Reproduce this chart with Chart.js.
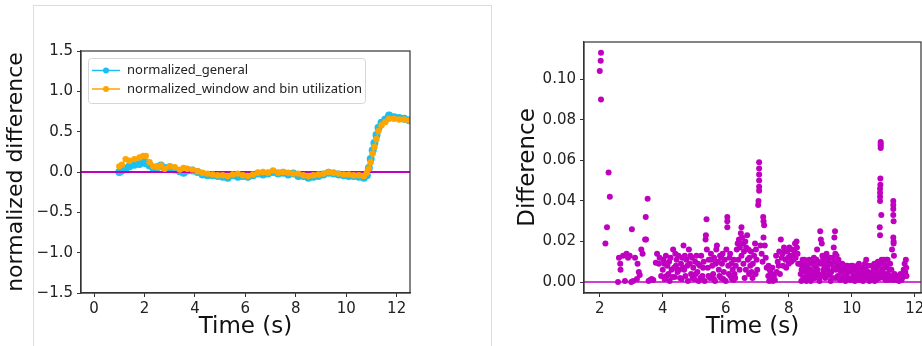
<!DOCTYPE html>
<html>
<head>
<meta charset="utf-8">
<script src="https://cdn.jsdelivr.net/npm/chart.js@4.4.1/dist/chart.umd.min.js"></script>
<style>
  html, body { margin: 0; padding: 0; background: #fff; overflow: hidden; }
  body { width: 922px; height: 346px; position: relative; }
  #frame { position: absolute; left: 33px; top: 5px; width: 459px; height: 360px; border: 1px solid #dcdcdc; box-sizing: border-box; }
  #leftChart { position: absolute; left: 0; top: 0; }
  #rightChart { position: absolute; left: 493px; top: 0; }
</style>
</head>
<body>
<div id="frame"></div>
<canvas id="leftChart" width="470" height="346"></canvas>
<canvas id="rightChart" width="445" height="346"></canvas>
<script>
// left panel: normalized difference over time
var times = [1.0, 1.1, 1.25, 1.4, 1.6, 1.8, 1.95, 2.05, 2.2, 2.35, 2.5, 2.65, 2.8, 3.0, 3.2, 3.4, 3.55, 3.7, 3.9,
  4.1, 4.3, 4.5, 4.7, 4.9, 5.1, 5.3, 5.5, 5.7, 5.9, 6.1, 6.3, 6.5, 6.7, 6.9, 7.1, 7.3, 7.5, 7.7, 7.9,
  8.1, 8.3, 8.5, 8.7, 8.9, 9.1, 9.3, 9.5, 9.7, 9.9, 10.1, 10.3, 10.5, 10.7, 10.82, 10.9, 10.97, 11.05,
  11.12, 11.2, 11.28, 11.4, 11.55, 11.7, 11.9, 12.1, 12.3, 12.5];
var generalDiff = [0.0, 0.02, 0.04, 0.07, 0.09, 0.10, 0.13, 0.11, 0.08, 0.05, 0.06, 0.08, 0.05, 0.06, 0.03, 0.01, -0.01, 0.02, 0.02,
  0.0, -0.03, -0.04, -0.04, -0.05, -0.06, -0.07, -0.04, -0.06, -0.05, -0.06, -0.04, -0.02, -0.03, -0.02, 0.0, -0.02, -0.01, -0.03, -0.02,
  -0.05, -0.05, -0.07, -0.06, -0.05, -0.03, -0.01, -0.02, -0.03, -0.04, -0.05, -0.05, -0.06, -0.07, -0.04, 0.05, 0.16, 0.27,
  0.36, 0.46, 0.55, 0.61, 0.65, 0.70, 0.68, 0.67, 0.66, 0.64];
var windowDiff = [0.07, 0.09, 0.16, 0.14, 0.16, 0.18, 0.20, 0.20, 0.12, 0.07, 0.06, 0.08, 0.04, 0.07, 0.06, 0.03, 0.05, 0.04, 0.03,
  0.01, -0.01, -0.02, -0.03, -0.04, -0.04, -0.05, -0.03, -0.02, -0.04, -0.05, -0.03, -0.01, 0.0, -0.01, 0.02, -0.01, 0.0, -0.01, -0.02,
  -0.02, -0.04, -0.05, -0.04, -0.03, -0.02, 0.0, -0.01, -0.02, -0.03, -0.03, -0.04, -0.04, -0.05, -0.01, 0.04, 0.12, 0.23,
  0.31, 0.41, 0.51, 0.58, 0.62, 0.66, 0.66, 0.65, 0.65, 0.64];
var leftXTicks = [0, 2, 4, 6, 8, 10, 12];
var leftYTicks = [-1.5, -1.0, -0.5, 0.0, 0.5, 1.0, 1.5];
var seriesNames = ['normalized_general', 'normalized_window and bin utilization'];

// right panel: absolute difference, [time, difference]
var scatterPoints = [
  [2.0,0.104],[2.03,0.109],[2.04,0.113],[2.04,0.090],[2.28,0.054],[2.32,0.042],[2.23,0.027],[2.18,0.019],
  [2.58,0.0],[2.61,0.012],[2.65,0.009],[2.66,0.006],[2.74,0.013],[2.8,0.0005],[2.85,0.014],[2.9,0.012],[2.95,0.013],
  [3.0,0.0],[3.02,0.026],[3.06,0.0005],[3.12,0.012],[3.18,0.0015],[3.2,0.009],[3.24,0.005],[3.27,0.0035],[3.32,0.016],
  [3.36,0.014],[3.44,0.021],[3.47,0.021],[3.46,0.032],[3.52,0.041],[3.55,0.0005],[3.6,0.001],[3.65,0.0015],[3.7,0.001],
  [3.78,0.0095],[3.82,0.014],[3.88,0.009],[3.95,0.003],[4.0,0.006],[4.02,0.011],[4.06,0.0015],[4.1,0.013],[4.15,0.008],
  [4.18,0.004],[4.22,0.0005],[4.25,0.012],[4.3,0.0025],[4.33,0.016],[4.36,0.007],[4.4,0.014],[4.44,0.011],[4.47,0.005],
  [4.5,0.013],[4.55,0.002],[4.58,0.009],[4.62,0.012],[4.66,0.018],[4.68,0.006],[4.72,0.003],[4.75,0.011],[4.8,0.0005],
  [4.83,0.016],[4.86,0.009],[4.9,0.004],[4.93,0.012],[4.97,0.007],[5.0,0.0015],
  [3.9,0.012],[4.05,0.009],[4.12,0.003],[4.2,0.01],[4.28,0.006],[4.38,0.0025],[4.42,0.008],[4.52,0.006],[4.6,0.0015],
  [4.64,0.007],[4.7,0.013],[4.78,0.008],[4.88,0.013],[4.95,0.002],
  [5.03,0.01],[5.07,0.013],[5.1,0.005],[5.14,0.0005],[5.18,0.008],[5.22,0.013],[5.26,0.003],[5.3,0.01],[5.33,0.0005],
  [5.36,0.021],[5.37,0.023],[5.39,0.031],[5.4,0.016],[5.43,0.007],[5.46,0.011],[5.5,0.002],[5.53,0.014],[5.57,0.008],
  [5.6,0.004],[5.63,0.012],[5.66,0.0005],[5.7,0.016],[5.72,0.018],[5.75,0.01],[5.78,0.006],[5.82,0.013],[5.85,0.002],
  [5.88,0.009],[5.9,0.014],[5.94,0.005],[5.97,0.011],[6.0,0.0005],[6.02,0.016],[6.05,0.027],[6.05,0.030],[6.05,0.032],
  [6.08,0.008],[6.12,0.012],[6.15,0.003],[6.18,0.009],[6.22,0.006],[6.25,0.001],[6.28,0.004],[6.32,0.008],
  [5.05,0.004],[5.12,0.009],[5.2,0.002],[5.28,0.007],[5.45,0.003],[5.55,0.011],[5.62,0.0015],[5.68,0.009],[5.8,0.003],
  [5.86,0.012],[5.92,0.0015],[6.1,0.004],[6.14,0.014],[6.2,0.0015],[6.26,0.011],[6.3,0.002],
  [6.35,0.016],[6.38,0.019],[6.42,0.021],[6.45,0.017],[6.48,0.024],[6.5,0.027],[6.52,0.022],[6.55,0.019],[6.58,0.015],
  [6.62,0.02],[6.65,0.017],[6.68,0.023],[6.72,0.016],[6.75,0.012],[6.78,0.008],[6.82,0.005],[6.86,0.009],[6.9,0.013],
  [6.93,0.019],[6.96,0.016],[6.98,0.011],[7.0,0.006],
  [6.4,0.011],[6.44,0.006],[6.5,0.013],[6.56,0.009],[6.6,0.002],[6.64,0.006],[6.7,0.011],[6.74,0.004],[6.8,0.015],
  [6.85,0.002],[6.95,0.004],
  [7.03,0.038],[7.04,0.040],[7.06,0.045],[7.06,0.047],[7.06,0.050],[7.06,0.053],[7.06,0.056],[7.06,0.059],[7.1,0.018],
  [7.14,0.014],[7.17,0.01],[7.19,0.032],[7.2,0.030],[7.22,0.028],[7.2,0.022],[7.24,0.018],[7.27,0.012],[7.3,0.007],
  [7.35,0.003],[7.38,0.0005],[7.4,0.006],[7.43,0.002],[7.46,0.004],[7.5,0.0005],[7.53,0.003],[7.6,0.013],[7.65,0.01],
  [7.7,0.015],[7.75,0.021],[7.78,0.012],[7.82,0.008],[7.85,0.017],[7.9,0.011],[7.95,0.015],[8.0,0.009],[8.05,0.013],
  [8.1,0.016],[8.15,0.011],[8.2,0.019],[8.25,0.02],[8.28,0.014],[8.3,0.009],
  [7.36,0.008],[7.42,0.005],[7.48,0.007],[7.56,0.001],[7.62,0.005],[7.68,0.008],[7.72,0.004],[7.8,0.014],[7.88,0.015],
  [7.92,0.007],[7.98,0.012],[8.02,0.017],[8.08,0.01],[8.12,0.013],[8.18,0.015],[8.22,0.012],[8.26,0.017],
  [8.38,0.004],[8.4,0.0005],[8.43,0.008],[8.46,0.002],[8.5,0.011],[8.53,0.005],[8.56,0.0005],[8.6,0.007],[8.63,0.01],
  [8.66,0.003],[8.7,0.0005],[8.73,0.009],[8.76,0.005],[8.8,0.012],[8.83,0.002],[8.86,0.007],[8.9,0.016],[8.92,0.01],
  [8.95,0.004],[8.98,0.0005],
  [8.36,0.009],[8.41,0.006],[8.44,0.011],[8.48,0.007],[8.51,0.002],[8.55,0.009],[8.58,0.004],[8.62,0.0015],[8.65,0.011],
  [8.68,0.006],[8.72,0.004],[8.75,0.01],[8.78,0.002],[8.82,0.008],[8.85,0.004],[8.88,0.011],[8.91,0.006],[8.94,0.009],[8.97,0.003],
  [9.0,0.025],[9.02,0.021],[9.05,0.019],[9.07,0.013],[9.1,0.006],[9.13,0.01],[9.16,0.002],[9.2,0.014],[9.23,0.008],
  [9.26,0.011],[9.3,0.004],[9.33,0.0005],[9.36,0.009],[9.4,0.012],[9.43,0.017],[9.45,0.022],[9.47,0.025],[9.48,0.014],
  [9.5,0.006],[9.53,0.01],[9.56,0.003],[9.6,0.008],
  [9.03,0.009],[9.06,0.003],[9.09,0.011],[9.12,0.005],[9.15,0.008],[9.18,0.012],[9.21,0.003],[9.24,0.006],[9.28,0.009],
  [9.31,0.012],[9.35,0.005],[9.38,0.002],[9.42,0.007],[9.46,0.01],[9.49,0.002],[9.52,0.013],[9.55,0.008],[9.58,0.011],
  [9.63,0.001],[9.66,0.005],[9.7,0.009],[9.73,0.002],[9.76,0.006],[9.8,0.0005],[9.83,0.004],[9.86,0.008],[9.9,0.002],
  [9.93,0.006],[9.96,0.001],[10.0,0.005],[10.03,0.008],[10.06,0.003],[10.1,0.0005],[10.13,0.006],[10.16,0.002],[10.2,0.005],
  [10.23,0.009],[10.26,0.001],[10.3,0.004],[10.33,0.007],[10.36,0.0005],[10.4,0.003],[10.43,0.006],[10.46,0.011],[10.5,0.002],
  [10.53,0.005],[10.56,0.0005],[10.6,0.004],[10.63,0.008],[10.66,0.002],[10.7,0.006],[10.73,0.0005],[10.76,0.003],[10.8,0.007],
  [9.62,0.006],[9.68,0.002],[9.72,0.007],[9.78,0.003],[9.82,0.008],[9.88,0.005],[9.92,0.0015],[9.98,0.008],[10.02,0.002],
  [10.08,0.006],[10.12,0.003],[10.18,0.008],[10.22,0.002],[10.28,0.007],[10.32,0.002],[10.38,0.006],[10.42,0.009],[10.48,0.004],
  [10.52,0.008],[10.58,0.003],[10.62,0.001],[10.68,0.004],[10.72,0.009],[10.78,0.001],
  [10.83,0.01],[10.86,0.004],[10.89,0.027],[10.9,0.023],[10.9,0.040],[10.9,0.042],[10.9,0.044],[10.9,0.046],[10.91,0.048],
  [10.91,0.051],[10.92,0.066],[10.92,0.067],[10.92,0.068],[10.92,0.069],[10.94,0.033],[10.95,0.011],[10.97,0.006],[11.0,0.009],
  [11.03,0.002],[11.06,0.007],[11.1,0.011],[11.13,0.004],[11.16,0.001],[11.2,0.006],[11.24,0.003],
  [10.82,0.005],[10.85,0.008],[10.88,0.002],[10.93,0.004],[10.96,0.009],[10.99,0.003],[11.02,0.011],[11.05,0.004],[11.08,0.001],
  [11.11,0.008],[11.14,0.011],[11.18,0.003],[11.22,0.009],[11.26,0.006],[11.3,0.001],
  [11.28,0.016],[11.32,0.040],[11.32,0.038],[11.32,0.036],[11.32,0.033],[11.33,0.030],[11.32,0.022],[11.33,0.020],[11.33,0.019],
  [11.34,0.013],[11.36,0.004],[11.4,0.001],[11.45,0.003],[11.5,0.0005],[11.55,0.004],[11.6,0.002],[11.65,0.006],[11.68,0.009],
  [11.72,0.011],[11.73,0.007],[11.74,0.003],
  [11.38,0.003],[11.43,0.001],[11.48,0.002],[11.58,0.001],[11.62,0.004],[11.66,0.003],[11.7,0.005]
];
var rightXTicks = [2, 4, 6, 8, 10, 12];
var rightYTicks = [0.00, 0.02, 0.04, 0.06, 0.08, 0.10];

var CYAN = '#1cbff0';
var ORANGE = '#ffa500';
var MAGENTA = '#c000c0';
var SPINE = '#333333';
var FONT = 'DejaVu Sans';

// draws the full box round the plot area like matplotlib spines
var boxPlugin = {
  id: 'box',
  afterDraw: function(chart) {
    var a = chart.chartArea, ctx = chart.ctx;
    ctx.save();
    ctx.strokeStyle = SPINE;
    ctx.lineWidth = 1.2;
    ctx.strokeRect(a.left, a.top, a.right - a.left, a.bottom - a.top);
    ctx.restore();
  }
};

// legend box inside the left plot
var legendPlugin = {
  id: 'boxLegend',
  afterDraw: function(chart) {
    var ctx = chart.ctx;
    ctx.save();
    ctx.fillStyle = 'rgba(255,255,255,0.85)';
    ctx.strokeStyle = '#d6d6d6';
    ctx.lineWidth = 1;
    ctx.beginPath();
    ctx.roundRect(88.5, 58.5, 277, 45, 3);
    ctx.fill();
    ctx.stroke();
    var rows = [[CYAN, seriesNames[0], 70.5], [ORANGE, seriesNames[1], 89]];
    rows.forEach(function(r) {
      ctx.strokeStyle = r[0];
      ctx.lineWidth = 1.5;
      ctx.beginPath();
      ctx.moveTo(92, r[2]);
      ctx.lineTo(120, r[2]);
      ctx.stroke();
      ctx.fillStyle = r[0];
      ctx.beginPath();
      ctx.arc(106, r[2], 3, 0, Math.PI * 2);
      ctx.fill();
      ctx.fillStyle = '#222';
      ctx.font = '13px "Noto Sans"';
      ctx.textBaseline = 'middle';
      ctx.fillText(r[1], 127, r[2]);
    });
    ctx.restore();
  }
};

function fixedTicks(list) {
  return function(scale) {
    scale.ticks = list.map(function(v) { return { value: v }; });
  };
}

function axisStyle(extra) {
  var base = {
    type: 'linear',
    grid: { display: true, drawOnChartArea: false, drawTicks: true, tickLength: 4, color: SPINE, lineWidth: 1 },
    border: { display: true, color: SPINE, width: 1.2 },
    ticks: { color: '#222', font: { family: FONT, size: 15 }, padding: 3 }
  };
  return Object.assign(base, extra);
}

new Chart(document.getElementById('leftChart'), {
  type: 'line',
  data: {
    datasets: [
      {
        label: 'zero',
        data: [{ x: -0.52, y: 0 }, { x: 12.53, y: 0 }],
        borderColor: MAGENTA,
        borderWidth: 2,
        pointRadius: 0,
        order: 1
      },
      {
        label: seriesNames[1],
        data: times.map(function(t, i) { return { x: t, y: windowDiff[i] }; }),
        borderColor: ORANGE,
        backgroundColor: ORANGE,
        borderWidth: 1.5,
        pointRadius: 3.2,
        pointBorderWidth: 0,
        order: 0
      },
      {
        label: seriesNames[0],
        data: times.map(function(t, i) { return { x: t, y: generalDiff[i] }; }),
        borderColor: CYAN,
        backgroundColor: CYAN,
        borderWidth: 4,
        pointRadius: 4,
        pointBorderWidth: 0,
        order: 2
      }
    ]
  },
  options: {
    responsive: false,
    animation: false,
    devicePixelRatio: 1,
    layout: { padding: { top: 51, right: 60, left: 0, bottom: 0 } },
    plugins: { legend: { display: false }, tooltip: { enabled: false } },
    scales: {
      x: axisStyle({
        min: -0.52, max: 12.53,
        afterBuildTicks: fixedTicks(leftXTicks),
        afterFit: function(s) { s.height = 53; },
        title: { display: true, text: 'Time (s)', color: '#111', font: { family: FONT, size: 23 }, padding: { bottom: 5 } }
      }),
      y: axisStyle({
        min: -1.5, max: 1.5,
        afterBuildTicks: fixedTicks(leftYTicks),
        afterFit: function(s) { s.width = 81; },
        ticks: {
          color: '#222', font: { family: FONT, size: 15 }, padding: 4,
          callback: function(v) { return v.toFixed(1).replace('-', '\u2212'); }
        },
        title: { display: true, text: 'normalized difference', color: '#111', font: { family: FONT, size: 22 }, padding: { top: 3 } }
      })
    }
  },
  plugins: [boxPlugin, legendPlugin]
});

new Chart(document.getElementById('rightChart'), {
  type: 'scatter',
  data: {
    datasets: [
      {
        type: 'line',
        label: 'zero',
        data: [{ x: 1.5, y: 0 }, { x: 12.2, y: 0 }],
        borderColor: MAGENTA,
        borderWidth: 1.5,
        pointRadius: 0,
        order: 2
      },
      {
        label: 'Difference',
        data: scatterPoints.map(function(p) { return { x: p[0], y: p[1] }; }),
        backgroundColor: MAGENTA,
        borderWidth: 0,
        pointRadius: 3,
        order: 1
      }
    ]
  },
  options: {
    responsive: false,
    animation: false,
    devicePixelRatio: 1,
    layout: { padding: { top: 42, right: 17, left: 0, bottom: 0 } },
    plugins: { legend: { display: false }, tooltip: { enabled: false } },
    scales: {
      x: axisStyle({
        min: 1.5, max: 12.2,
        afterBuildTicks: fixedTicks(rightXTicks),
        afterFit: function(s) { s.height = 53; },
        title: { display: true, text: 'Time (s)', color: '#111', font: { family: FONT, size: 23 }, padding: { bottom: 5 } }
      }),
      y: axisStyle({
        min: -0.0054, max: 0.1183,
        afterBuildTicks: fixedTicks(rightYTicks),
        afterFit: function(s) { s.width = 91; },
        ticks: {
          color: '#222', font: { family: FONT, size: 15 }, padding: 4,
          callback: function(v) { return v.toFixed(2); }
        },
        title: { display: true, text: 'Difference', color: '#111', font: { family: FONT, size: 23 }, padding: { top: 21 } }
      })
    }
  },
  plugins: [boxPlugin]
});
</script>
</body>
</html>
